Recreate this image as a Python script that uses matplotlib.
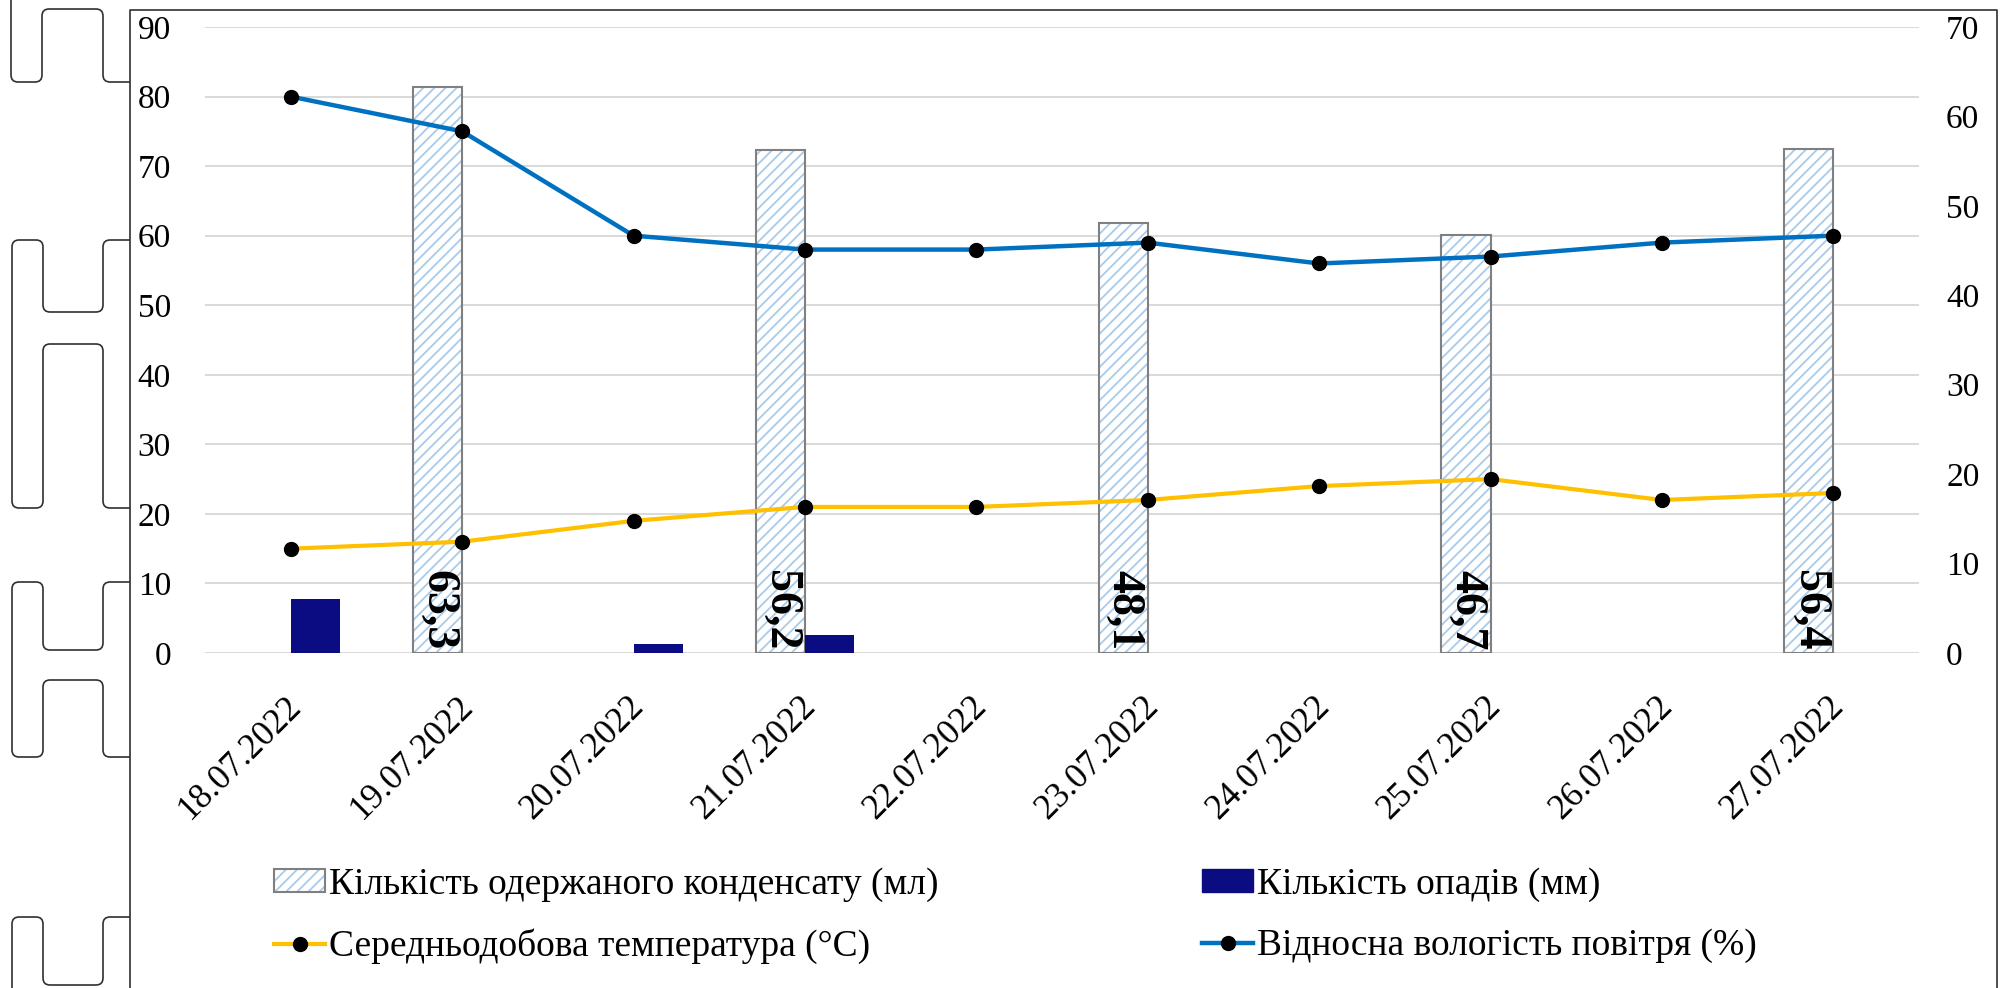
import numpy as np
import matplotlib
matplotlib.use("Agg")
import matplotlib.pyplot as plt
from matplotlib.lines import Line2D
from matplotlib.patches import Patch, PathPatch
from matplotlib.path import Path
from matplotlib.transforms import ScaledTranslation

plt.rcParams['font.family'] = ['Liberation Serif', 'DejaVu Serif']
plt.rcParams['hatch.linewidth'] = 1.3

# ---------------- data ----------------
dates = ["18.07.2022", "19.07.2022", "20.07.2022", "21.07.2022", "22.07.2022",
         "23.07.2022", "24.07.2022", "25.07.2022", "26.07.2022", "27.07.2022"]
condensate = [None, 63.3, None, 56.2, None, 48.1, None, 46.7, None, 56.4]   # ml, right axis
precip = [6.0, 0.0, 1.0, 2.0, 0.0, 0.0, 0.0, 0.0, 0.0, 0.0]                 # mm, right axis
temperature = [15, 16, 19, 21, 21, 22, 24, 25, 22, 23]                        # °C, left axis
humidity = [80, 75, 60, 58, 58, 59, 56, 57, 59, 60]                          # %, left axis

left_ticks = list(range(0, 91, 10))
right_ticks = list(range(0, 71, 10))

lbl_cond = "Кількість одержаного конденсату (мл)"
lbl_prec = "Кількість опадів (мм)"
lbl_temp = "Середньодобова температура (°C)"
lbl_hum = "Відносна вологість повітря (%)"

# ---------------- style ----------------
C_HATCH = "#A9CBEA"
C_EDGE = "#808080"
C_NAVY = "#0b0b82"
C_TEMP = "#FFC000"
C_HUM = "#0070C0"
C_GRID = "#D9D9D9"
FS = 24
FS_LEG = 27

W, H = 2000, 988
fig = plt.figure(figsize=(W / 100, H / 100), dpi=100)
ax_l, ax_r, ax_b, ax_t = 205, 1919, 653, 27
rect = [ax_l / W, 1 - ax_b / H, (ax_r - ax_l) / W, (ax_b - ax_t) / H]

ax = fig.add_axes(rect)          # grid + left ticks + x labels
axb = ax.twinx()                 # bars, right axis
axl = ax.twinx()                 # lines, left scale

x = np.arange(len(dates))
bw = 0.286

ax.set_xlim(-0.5, len(dates) - 0.5)
ax.set_ylim(0, 90)
axl.set_ylim(0, 90)
axb.set_ylim(0, 70)
ax.set_yticks(left_ticks)
axb.set_yticks(right_ticks)
ax.yaxis.grid(True, color=C_GRID, linewidth=1.4)
ax.set_axisbelow(True)
axl.yaxis.set_visible(False)

for a in (ax, axb, axl):
    for s in a.spines.values():
        s.set_visible(False)
    a.patch.set_visible(False)

ax.set_zorder(0)
axb.set_zorder(1)
axl.set_zorder(2)

ax.tick_params(axis='y', length=0, pad=24.5, labelsize=FS)
axb.tick_params(axis='y', length=0, pad=19.5, labelsize=FS)
ax.set_xticks(x)
ax.set_xticklabels(dates, rotation=45, ha='right', va='center', rotation_mode='anchor')
ax.tick_params(axis='x', length=0, pad=35, labelsize=25.5)
for t in ax.get_xticklabels():
    t.set_transform(t.get_transform() + ScaledTranslation(6 / 100, 0, fig.dpi_scale_trans))

# condensate bars (hatched)
ci = [i for i, v in enumerate(condensate) if v is not None]
cv = [condensate[i] for i in ci]
cx = x[ci] - bw / 2
axb.bar(cx, cv, width=bw, facecolor="white", edgecolor=C_HATCH, hatch="///", linewidth=0)
axb.bar(cx, cv, width=bw, fill=False, edgecolor=C_EDGE, linewidth=1.5)
for xi, v in zip(cx, cv):
    axb.annotate(f"{v:.1f}".replace(".", ","), (xi, 0), xytext=(0, 2), textcoords="offset points",
                 rotation=270, ha="center", va="bottom", fontsize=33, fontweight="bold")

# precipitation bars
axb.bar(x + bw / 2, precip, width=bw, color=C_NAVY, linewidth=0)

# lines
mk = dict(marker='o', markersize=10, markerfacecolor='black', markeredgecolor='black')
axl.plot(x, temperature, color=C_TEMP, linewidth=3, **mk)
axl.plot(x, humidity, color=C_HUM, linewidth=3.2, **mk)

# legend (two columns placed separately)
h_cond = (Patch(facecolor="white", edgecolor=C_HATCH, hatch="///", linewidth=0),
          Patch(fill=False, edgecolor=C_EDGE, linewidth=1.5))
h_prec = Patch(facecolor=C_NAVY, edgecolor=C_NAVY)
h_temp = Line2D([], [], color=C_TEMP, linewidth=3, **mk)
h_hum = Line2D([], [], color=C_HUM, linewidth=3.2, **mk)

leg_kw = dict(frameon=False, fontsize=FS_LEG, loc='upper left', borderpad=0, borderaxespad=0,
              handlelength=1.36, handletextpad=0.1, labelspacing=0.72, handleheight=0.55)
fig.legend([h_cond, h_temp], [lbl_cond, lbl_temp],
           bbox_to_anchor=(274 / W, 1 - 867 / H), **leg_kw)
fig.legend([h_prec, h_hum], [lbl_prec, lbl_hum],
           bbox_to_anchor=(1202 / W, 1 - 867 / H), **leg_kw)

# ---------------- page frame and margin marks of the scanned page ----------------
fc = "#303030"
def px(pts):
    return [(a / W, 1 - b / H) for a, b in pts]

def rounded(pts, r=7):
    verts, codes = [pts[0]], [Path.MOVETO]
    for i in range(1, len(pts) - 1):
        p0, p1, p2 = np.array(pts[i - 1], float), np.array(pts[i], float), np.array(pts[i + 1], float)
        d1 = (p0 - p1) / np.linalg.norm(p0 - p1)
        d2 = (p2 - p1) / np.linalg.norm(p2 - p1)
        a = p1 + d1 * r
        b = p1 + d2 * r
        verts += [tuple(a), tuple(p1), tuple(b)]
        codes += [Path.LINETO, Path.CURVE3, Path.CURVE3]
    verts.append(pts[-1]); codes.append(Path.LINETO)
    return Path(px(verts), codes)

frame = [(130, 1000), (130, 10), (1997, 10), (1997, 1000)]
fig.add_artist(Line2D([p[0] for p in px(frame)], [p[1] for p in px(frame)],
                      transform=fig.transFigure, color=fc, linewidth=1.2))

shapes = [
    [(11, -5), (11, 82), (42, 82), (42, 9), (103, 9), (103, 82), (130, 82)],
    [(130, 240), (103, 240), (103, 312), (43, 312), (43, 240), (12, 240), (12, 508),
     (43, 508), (43, 344), (103, 344), (103, 508), (130, 508)],
    [(130, 582), (103, 582), (103, 650), (43, 650), (43, 582), (12, 582), (12, 757),
     (43, 757), (43, 680), (103, 680), (103, 757), (130, 757)],
    [(130, 917), (103, 917), (103, 985), (43, 985), (43, 917), (12, 917), (12, 1000)],
]
for s in shapes:
    fig.add_artist(PathPatch(rounded(s), transform=fig.transFigure, fill=False,
                             edgecolor=fc, linewidth=1.2))

fig.savefig("out.png", dpi=100)
